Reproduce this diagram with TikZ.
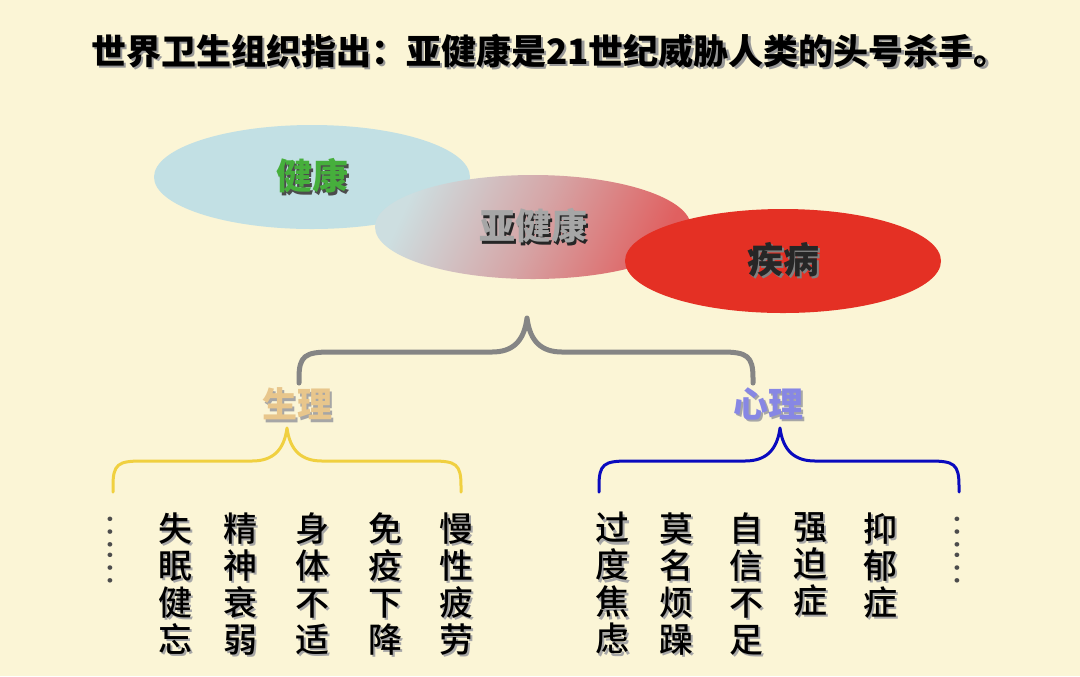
\documentclass[tikz,border=0pt]{standalone}
\usepackage{fontspec}
\setmainfont{Noto Sans CJK SC}
\newfontfamily\cjkmed{Noto Sans CJK SC Medium}
\usetikzlibrary{shapes.geometric}

\definecolor{paper}{RGB}{251,245,214}
\definecolor{skyblob}{RGB}{194,224,228}
\definecolor{redblob}{RGB}{228,48,36}
\definecolor{subleft}{RGB}{205,222,224}
\definecolor{subright}{RGB}{224,96,96}
\definecolor{greenword}{RGB}{70,175,60}
\definecolor{goldword}{RGB}{232,198,140}
\definecolor{violetword}{RGB}{135,135,228}
\definecolor{goldline}{RGB}{240,208,64}
\definecolor{blueline}{RGB}{10,10,190}

% text with a small drop shadow
\newcommand\shtext[2][black!40]{\makebox[0pt][l]{\hspace{1.3pt}\raisebox{-1.3pt}{\textcolor{#1}{#2}}}#2}

\begin{document}
\begin{tikzpicture}[x=0.5pt, y=-0.5pt,
	blob/.style={ellipse, minimum width=158pt, minimum height=52pt, inner sep=0pt, font=\bfseries\fontsize{18}{20}\selectfont},
	tag/.style={inner sep=0pt, font=\bfseries\fontsize{17.5}{20}\selectfont},
	word/.style={inner sep=0pt, align=center, anchor=north, font=\cjkmed\fontsize{17}{18.5}\selectfont},
	shadow/.style={text=black!35, xshift=1.2pt, yshift=-1.2pt},
	curl/.style={line width=1.5pt, line cap=round, line join=round}]

	\fill[paper] (0,0) rectangle (1080,676);
	\useasboundingbox (0,0) rectangle (1080,676);

	\node[tag] (title) at (550,52) {\shtext{世界卫生组织指出：亚健康是21世纪威胁人类的头号杀手。}};

	\node[blob, fill=skyblob, text=greenword] (well) at (312,177) {\shtext[black!70]{健康}};
	\node[blob, left color=subleft, right color=subright, middle color=subright!45!subleft, shading angle=65, text=black!35] (sub) at (533,227) {\shtext[black!85]{亚健康}};
	\node[blob, fill=redblob, text=black!85] (ill) at (783,261) {\shtext[black!50]{疾病}};

	\node[tag, text=goldword] (body) at (297,405) {\shtext[black!35]{生理}};
	\node[tag, text=violetword] (mind) at (768,405) {\shtext[black!35]{心理}};

	% braces
	\draw[curl, line width=2.5pt, black!48] (299,383) -- (299,378) .. controls (299,356) and (305,352) .. (330,352) -- (492,352) .. controls (512,352) and (524,342) .. (527,318) .. controls (530,342) and (542,352) .. (562,352) -- (722,352) .. controls (747,352) and (753,356) .. (753,378) -- (753,383);
	\draw[curl, goldline] (113,492) -- (113,486) .. controls (113,464) and (118,461) .. (142,461) -- (252,461) .. controls (272,461) and (284,451) .. (287,428) .. controls (290,451) and (302,461) .. (322,461) -- (432,461) .. controls (456,461) and (461,464) .. (461,486) -- (461,492);
	\draw[curl, blueline] (599,492) -- (599,486) .. controls (599,464) and (604,461) .. (628,461) -- (745,461) .. controls (765,461) and (777,451) .. (780,428) .. controls (783,451) and (795,461) .. (815,461) -- (930,461) .. controls (954,461) and (959,464) .. (959,486) -- (959,492);

	% symptom columns
	\foreach \x/\t [count=\i] in {175/{失\\眠\\健\\忘}, 240/{精\\神\\衰\\弱}, 312/{身\\体\\不\\适}, 385/{免\\疫\\下\\降}, 456/{慢\\性\\疲\\劳}} {
		\node[word, shadow] (ps\i) at (\x,512) {\t};
		\node[word] (p\i) at (\x,512) {\t};
	}
	\foreach \x/\t [count=\i] in {612/{过\\度\\焦\\虑}, 676/{莫\\名\\烦\\躁}, 746/{自\\信\\不\\足}, 810/{强\\迫\\症}, 880/{抑\\郁\\症}} {
		\node[word, shadow] (ms\i) at (\x,512) {\t};
		\node[word] (m\i) at (\x,512) {\t};
	}

	\node[rotate=-90, inner sep=0pt, text=black!70, font=\fontsize{17}{18}\selectfont] (pdots) at (110,549) {……};
	\node[rotate=-90, inner sep=0pt, text=black!70, font=\fontsize{17}{18}\selectfont] (mdots) at (957,549) {……};

\end{tikzpicture}
\end{document}
